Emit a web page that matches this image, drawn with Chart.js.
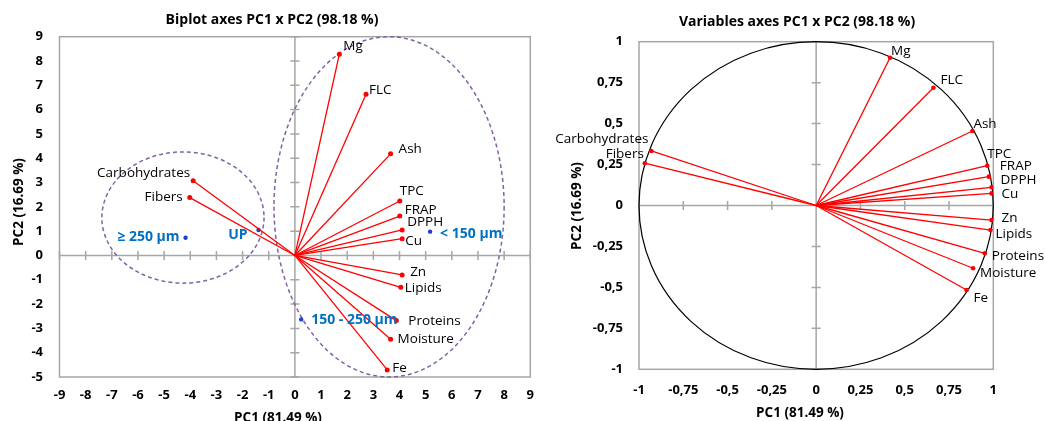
<!DOCTYPE html>
<html><head><meta charset="utf-8">
<script src="https://cdn.jsdelivr.net/npm/chart.js@4.4.1/dist/chart.umd.min.js"></script>
<style>
html,body{margin:0;padding:0;width:1045px;height:421px;overflow:hidden;background:#fff;}
#c1{position:absolute;left:0;top:0;}
#c2{position:absolute;left:540px;top:0;}
</style></head><body>
<canvas id="c1" width="544" height="430"></canvas>
<canvas id="c2" width="514" height="430"></canvas>
<script>
// ---------- data ----------
const varNames = ['Mg','FLC','Ash','TPC','FRAP','DPPH','Cu','Zn','Lipids','Proteins','Moisture','Fe','Carbohydrates','Fibers'];
const biplotPC1 = [1.70,2.72,3.66,4.01,4.01,4.10,4.10,4.10,4.05,3.88,3.66,3.53,-3.89,-4.02];
const biplotPC2 = [8.28,6.63,4.18,2.24,1.62,1.05,0.69,-0.80,-1.31,-2.68,-3.45,-4.71,3.07,2.38];
const sampleNames = ['≥ 250 µm','UP','< 150 µm','150 - 250 µm'];
const samplePC1 = [-4.18,-1.39,5.17,0.24];
const samplePC2 = [0.73,1.05,0.98,-2.63];
const corPC1 = [0.417,0.662,0.882,0.966,0.975,0.990,0.990,0.990,0.984,0.952,0.886,0.849,-0.930,-0.967];
const corPC2 = [0.902,0.719,0.455,0.243,0.176,0.111,0.074,-0.089,-0.150,-0.292,-0.383,-0.516,0.333,0.258];
// group ellipses (biplot units)
const groupCenterPC1 = [-4.28, 3.6];
const groupCenterPC2 = [1.56, 2.0];
const groupRadiusPC1 = [3.1, 4.4];
const groupRadiusPC2 = [2.7, 7.0];
// tick labels
const biplotXTicks = ['-9','-8','-7','-6','-5','-4','-3','-2','-1','0','1','2','3','4','5','6','7','8','9'];
const biplotYTicks = ['-5','-4','-3','-2','-1','0','1','2','3','4','5','6','7','8','9'];
const corTicks = ['-1','-0,75','-0,5','-0,25','0','0,25','0,5','0,75','1'];
const titleLeft = 'Biplot axes PC1 x PC2 (98.18 %)';
const titleRight = 'Variables axes PC1 x PC2 (98.18 %)';
const xTitle = 'PC1 (81.49 %)';
const yTitle = 'PC2 (16.69 %)';

// ---------- label placement (style, not data) ----------
const leftVarDX = [4,3,8,0,5,5,3,8,4,12,7,5,-3,-7];
const leftVarDY = [-8,-4,-5,-10,-6,-8,2,-3,1,1,0,-2,-8,0];
const leftSampleDX = [-6,-11,10,10];
const leftSampleDY = [-1,5,2,1];
const rightVarDX = [1,7,1,0,11,9,10,10,5,7,7,7,-3,-1];
const rightVarDY = [-7,-8,-7,-12,-11,-7,1,-2,4,3,5,8,-12,-9];

const FONT = "'Open Sans', sans-serif";
const RED = '#FF0000';
const GRAY = '#A6A6A6';

function vectorDatasets(px, py, r) {
  return varNames.map((n, i) => ({
    label: n,
    data: [{x:0,y:0},{x:px[i],y:py[i]}],
    showLine: true,
    borderColor: RED,
    borderWidth: 1.3,
    backgroundColor: RED,
    pointBackgroundColor: RED,
    pointBorderColor: RED,
    pointRadius: [0, r],
    pointBorderWidth: 0
  }));
}

const decorPlugin = {
  id: 'decor',
  beforeDatasetsDraw(chart, args, o) {
    const {ctx, chartArea: a, scales: {x, y}} = chart;
    ctx.save();
    ctx.strokeStyle = GRAY; ctx.lineWidth = 1.5;
    ctx.strokeRect(a.left, a.top, a.width, a.height);
    const x0 = x.getPixelForValue(0), y0 = y.getPixelForValue(0);
    ctx.beginPath();
    ctx.moveTo(x0, a.top); ctx.lineTo(x0, a.bottom);
    ctx.moveTo(a.left, y0); ctx.lineTo(a.right, y0);
    x.ticks.forEach(t => { const p = x.getPixelForValue(t.value); ctx.moveTo(p, y0 - 4.5); ctx.lineTo(p, y0 + 4.5); });
    y.ticks.forEach(t => { const p = y.getPixelForValue(t.value); ctx.moveTo(x0 - 4.5, p); ctx.lineTo(x0 + 4.5, p); });
    ctx.stroke();
    (o.ellipses || []).forEach(e => {
      const cx = x.getPixelForValue(e.cx), cy = y.getPixelForValue(e.cy);
      const rx = Math.abs(x.getPixelForValue(e.cx + e.rx) - cx);
      const ry = Math.abs(y.getPixelForValue(e.cy + e.ry) - cy);
      ctx.beginPath();
      ctx.setLineDash(e.dash || []);
      ctx.strokeStyle = e.color; ctx.lineWidth = e.width;
      ctx.ellipse(cx, cy, rx, ry, 0, 0, Math.PI * 2);
      ctx.stroke();
    });
    ctx.restore();
  },
  afterDatasetsDraw(chart, args, o) {
    const {ctx, scales: {x, y}} = chart;
    ctx.save();
    ctx.textBaseline = 'middle';
    (o.labels || []).forEach(L => {
      ctx.font = L.font; ctx.fillStyle = L.color;
      ctx.textAlign = L.dx < 0 ? 'right' : 'left';
      ctx.fillText(L.text, x.getPixelForValue(L.x) + L.dx, y.getPixelForValue(L.y) + L.dy);
    });
    ctx.fillStyle = '#000'; ctx.textAlign = 'center';
    ctx.font = 'bold 14px ' + FONT;
    ctx.fillText(o.title, o.tt[0], o.tt[1]);
    ctx.font = 'bold 13.5px ' + FONT;
    ctx.fillText(xTitle, o.xt[0], o.xt[1]);
    ctx.translate(o.yt[0], o.yt[1]); ctx.rotate(-Math.PI / 2);
    ctx.fillText(yTitle, 0, 0);
    ctx.restore();
  }
};

function baseOptions(top, xmin, xmax, xstep, ymin, ymax, ystep, xlabels, ylabels, yw, xh, padRight, ypad, xpad) {
  return {
    responsive: false, animation: false,
    layout: { padding: { left: 0, right: padRight, top: top, bottom: 0 } },
    plugins: {
      legend: { display: false }, tooltip: { enabled: false }, title: { display: false }
    },
    scales: {
      x: {
        type: 'linear', min: xmin, max: xmax,
        grid: { display: false, drawTicks: false }, border: { display: false },
        ticks: { stepSize: xstep, color: '#000', padding: xpad, font: { family: FONT, size: 13, weight: 'bold' },
          callback: (v) => xlabels[Math.round((v - xmin) / xstep)] },
        afterFit: s => { s.height = xh; }
      },
      y: {
        type: 'linear', min: ymin, max: ymax,
        grid: { display: false, drawTicks: false }, border: { display: false },
        ticks: { stepSize: ystep, color: '#000', padding: ypad, font: { family: FONT, size: 13, weight: 'bold' },
          callback: (v) => ylabels[Math.round((v - ymin) / ystep)] },
        afterFit: s => { s.width = yw; }
      }
    }
  };
}

// ---------- left chart ----------
const leftLabels = varNames.map((n, i) => ({ text: n, x: biplotPC1[i], y: biplotPC2[i], dx: leftVarDX[i], dy: leftVarDY[i], font: '13.5px ' + FONT, color: '#000' }))
  .concat(sampleNames.map((n, i) => ({ text: n, x: samplePC1[i], y: samplePC2[i], dx: leftSampleDX[i], dy: leftSampleDY[i], font: 'bold 14px ' + FONT, color: '#0070C0' })));
const leftOpts = baseOptions(36.7, -9, 9, 1, -5, 9, 1, biplotXTicks, biplotYTicks, 59.5, 53, 12.5, 16.5, 10);
leftOpts.plugins.decor = {
  ellipses: groupCenterPC1.map((c, i) => ({ cx: c, cy: groupCenterPC2[i], rx: groupRadiusPC1[i], ry: groupRadiusPC2[i], color: '#8064A2', width: 1.5, dash: [4, 3] })),
  labels: leftLabels, title: titleLeft, tt: [272, 20], xt: [278, 418], yt: [19, 202]
};
new Chart(document.getElementById('c1'), {
  type: 'scatter',
  data: { datasets: vectorDatasets(biplotPC1, biplotPC2, 2.5).concat([{
    label: 'samples', data: samplePC1.map((v, i) => ({ x: v, y: samplePC2[i] })),
    pointRadius: 2.2, pointBackgroundColor: '#1F3FD0', pointBorderWidth: 0, showLine: false }]) },
  options: leftOpts,
  plugins: [decorPlugin]
});

// ---------- right chart ----------
const rightLabels = varNames.map((n, i) => ({ text: n, x: corPC1[i], y: corPC2[i], dx: rightVarDX[i], dy: rightVarDY[i], font: '13.5px ' + FONT, color: '#000' }));
const rightOpts = baseOptions(41.7, -1, 1, 0.25, -1, 1, 0.25, corTicks, corTicks, 99, 60.7, 60.7, 16, 13.5);
rightOpts.plugins.decor = {
  ellipses: [{ cx: 0, cy: 0, rx: 1, ry: 1, color: '#000', width: 1.2 }],
  labels: rightLabels, title: titleRight, tt: [257, 22], xt: [260, 413], yt: [36.7, 206]
};
new Chart(document.getElementById('c2'), {
  type: 'scatter',
  data: { datasets: vectorDatasets(corPC1, corPC2, 2.3) },
  options: rightOpts,
  plugins: [decorPlugin]
});
</script>
</body></html>
